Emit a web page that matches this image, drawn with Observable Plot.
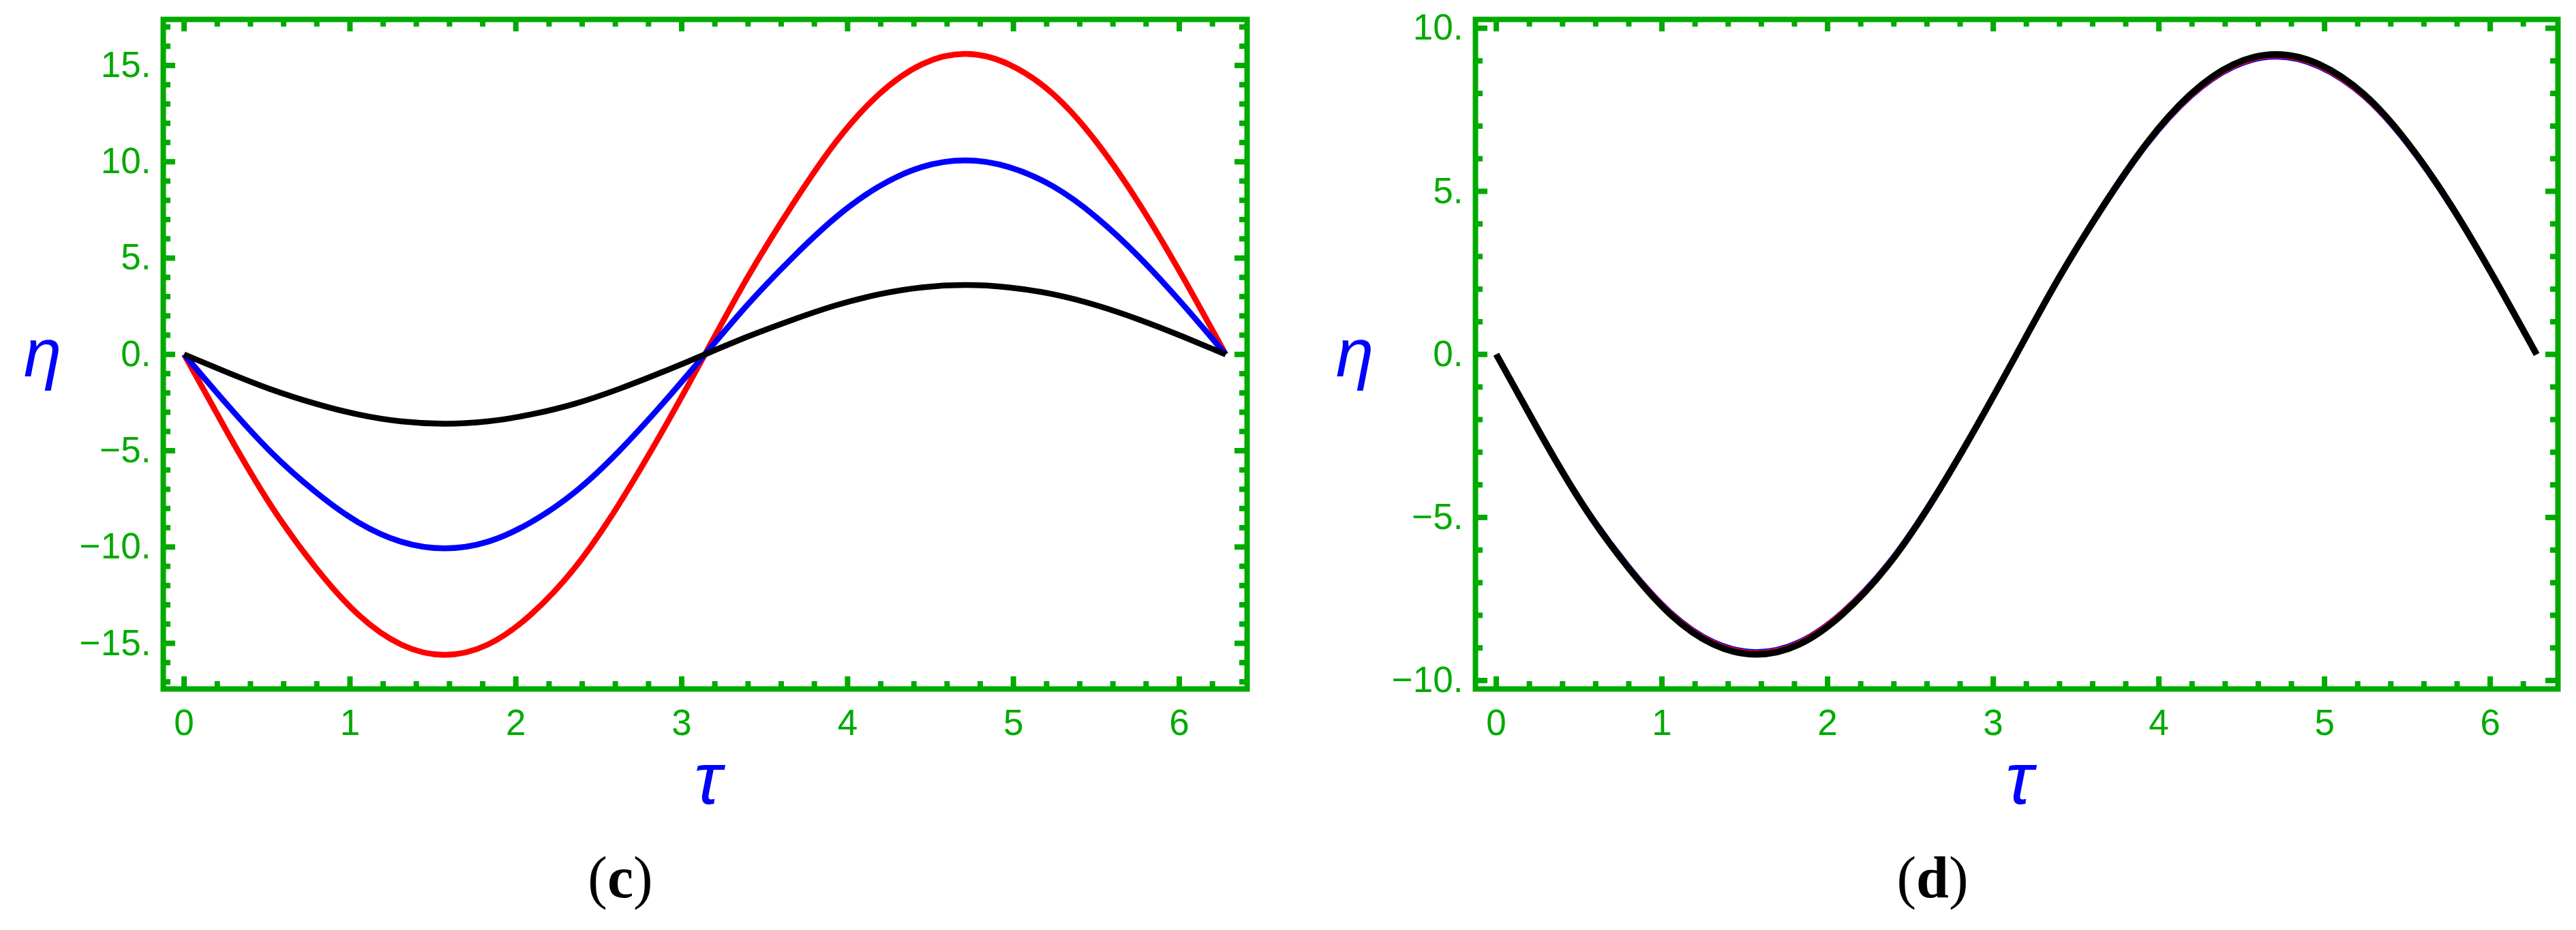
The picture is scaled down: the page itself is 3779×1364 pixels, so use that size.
<!DOCTYPE html>
<html><head><meta charset="utf-8">
<script src="https://cdn.jsdelivr.net/npm/d3@7"></script>
<script src="https://cdn.jsdelivr.net/npm/@observablehq/plot@0.6"></script>
<style>
body{margin:0;background:#fff;}
#wrap{position:relative;width:3779px;height:1364px;overflow:hidden;background:#fff;}
.panel{position:absolute;top:0;}
.cap{position:absolute;font-family:"Liberation Serif","Times New Roman",serif;font-size:86px;line-height:1;color:#000;transform:translateX(-50%);white-space:nowrap;}
</style></head><body><div id="wrap"></div><script>
// τ sample points (0 … 2π)
const tau = [0, 0.26, 0.52, 0.79, 1.05, 1.31, 1.57, 1.83, 2.09, 2.36, 2.62, 2.88, 3.14, 3.40, 3.67, 3.93, 4.19, 4.45, 4.71, 4.97, 5.24, 5.50, 5.76, 6.02, 6.28];
// panel (c)
const cRed   = [0, -4.04, -7.80, -11.03, -13.51, -15.07, -15.60, -15.07, -13.51, -11.03, -7.80, -4.04, 0, 4.04, 7.80, 11.03, 13.51, 15.07, 15.60, 15.07, 13.51, 11.03, 7.80, 4.04, 0];
const cBlue  = [0, -2.61, -5.04, -7.12, -8.72, -9.73, -10.07, -9.73, -8.72, -7.12, -5.04, -2.61, 0, 2.61, 5.04, 7.12, 8.72, 9.73, 10.07, 9.73, 8.72, 7.12, 5.04, 2.61, 0];
const cBlack = [0, -0.93, -1.80, -2.55, -3.12, -3.48, -3.60, -3.48, -3.12, -2.55, -1.80, -0.93, 0, 0.93, 1.80, 2.55, 3.12, 3.48, 3.60, 3.48, 3.12, 2.55, 1.80, 0.93, 0];
// panel (d)
const dBlue  = [0, -2.36, -4.57, -6.46, -7.91, -8.82, -9.13, -8.82, -7.91, -6.46, -4.57, -2.36, 0, 2.36, 4.57, 6.46, 7.91, 8.82, 9.13, 8.82, 7.91, 6.46, 4.57, 2.36, 0];
const dRed   = [0, -2.37, -4.58, -6.48, -7.93, -8.85, -9.16, -8.85, -7.93, -6.48, -4.58, -2.37, 0, 2.37, 4.58, 6.48, 7.93, 8.85, 9.16, 8.85, 7.93, 6.48, 4.58, 2.37, 0];
const dBlack = [0, -2.38, -4.60, -6.50, -7.97, -8.89, -9.20, -8.89, -7.97, -6.50, -4.60, -2.38, 0, 2.38, 4.60, 6.50, 7.97, 8.89, 9.20, 8.89, 7.97, 6.50, 4.60, 2.38, 0];
// ticks
const xMajor = [0, 1, 2, 3, 4, 5, 6];
const xMinor = [0.2,0.4,0.6,0.8,1.2,1.4,1.6,1.8,2.2,2.4,2.6,2.8,3.2,3.4,3.6,3.8,4.2,4.4,4.6,4.8,5.2,5.4,5.6,5.8,6.2];
const cYMajor = [-15, -10, -5, 0, 5, 10, 15];
const cYMinor = [-17,-16,-14,-13,-12,-11,-9,-8,-7,-6,-4,-3,-2,-1,1,2,3,4,6,7,8,9,11,12,13,14,16,17];
const dYMajor = [-10, -5, 0, 5, 10];
const dYMinor = [-9,-8,-7,-6,-4,-3,-2,-1,1,2,3,4,6,7,8,9];
const captions = ["(c)", "(d)"];

const GREEN = "#00AA00";
const H = 1240, MT = 28, MB = 230;
const plotH = H - MT - MB;
const fmtY = d => (d < 0 ? "\u2212" : "") + Math.abs(d) + ".";

function rows(ys){ return tau.map((t,i)=>({t, v: ys[i]})); }

function panel({left, width, ml, mr, yDomain, yMajor, yMinor, series, etaDx}) {
  const plotW = width - ml - mr;
  const tickStyle = {stroke: GREEN, strokeWidth: 8, strokeLinecap: "butt"};
  const marks = [];
  for (const s of series) {
    marks.push(Plot.line(rows(s.y), {x: "t", y: "v", stroke: s.color, strokeWidth: s.w, curve: "natural", strokeLinecap: "butt"}));
  }
  marks.push(Plot.tickX(xMajor, {x: d=>d, insetTop: plotH - 18, ...tickStyle}));
  marks.push(Plot.tickX(xMinor, {x: d=>d, insetTop: plotH - 11, ...tickStyle}));
  marks.push(Plot.tickX(xMajor, {x: d=>d, insetBottom: plotH - 18, ...tickStyle}));
  marks.push(Plot.tickX(xMinor, {x: d=>d, insetBottom: plotH - 11, ...tickStyle}));
  marks.push(Plot.tickY(yMajor, {y: d=>d, insetRight: plotW - 18, ...tickStyle}));
  marks.push(Plot.tickY(yMinor, {y: d=>d, insetRight: plotW - 11, ...tickStyle}));
  marks.push(Plot.tickY(yMajor, {y: d=>d, insetLeft: plotW - 18, ...tickStyle}));
  marks.push(Plot.tickY(yMinor, {y: d=>d, insetLeft: plotW - 11, ...tickStyle}));
  marks.push(Plot.frame({stroke: GREEN, strokeWidth: 8}));
  marks.push(Plot.axisX(xMajor, {tickSize: 0, tickPadding: 30, tickFormat: d => String(d), fill: GREEN, fontSize: 53, label: null}));
  marks.push(Plot.axisY(yMajor, {tickSize: 0, tickPadding: 18, tickFormat: fmtY, fill: GREEN, fontSize: 53, label: null}));
  marks.push(Plot.text(["\u03B7"], {frameAnchor: "left", dx: etaDx, text: d=>d, fill: "#0000FF", fontSize: 100, fontStyle: "italic", fontFamily: "Liberation Sans", textAnchor: "middle"}));
  marks.push(Plot.text(["\u03C4"], {frameAnchor: "bottom", dy: 168, dx: 4, text: d=>d, fill: "#0000FF", fontSize: 108, fontStyle: "italic", fontFamily: "Liberation Sans", textAnchor: "middle"}));
  const svg = Plot.plot({
    width, height: H,
    marginLeft: ml, marginRight: mr, marginTop: MT, marginBottom: MB,
    x: {domain: [-0.1257, 6.4089]},
    y: {domain: yDomain},
    style: {background: "transparent", color: GREEN, fontFamily: "Liberation Sans, Arial, sans-serif", overflow: "visible"},
    marks
  });
  svg.classList.add("panel");
  svg.style.left = left + "px";
  return svg;
}

const wrap = document.getElementById("wrap");
wrap.appendChild(panel({
  left: 0, width: 1889, ml: 239, mr: 60,
  yDomain: [-17.37, 17.39], yMajor: cYMajor, yMinor: cYMinor, etaDx: -177,
  series: [{y: cRed, color: "#FF0000", w: 8.5}, {y: cBlue, color: "#0000FF", w: 8.5}, {y: cBlack, color: "#000000", w: 8.5}]
}));
wrap.appendChild(panel({
  left: 1889, width: 1890, ml: 275, mr: 27,
  yDomain: [-10.26, 10.27], yMajor: dYMajor, yMinor: dYMinor, etaDx: -177,
  series: [{y: dBlue, color: "#0000FF", w: 8.5}, {y: dRed, color: "#FF0000", w: 8.5}, {y: dBlack, color: "#000000", w: 9.5}]
}));
const capX = [910, 2835];
captions.forEach((c, i) => {
  const d = document.createElement("div");
  d.className = "cap";
  d.style.left = capX[i] + "px";
  d.style.top = "1244px";
  d.innerHTML = "(<b>" + c.slice(1, -1) + "</b>)";
  wrap.appendChild(d);
});
</script></body></html>
